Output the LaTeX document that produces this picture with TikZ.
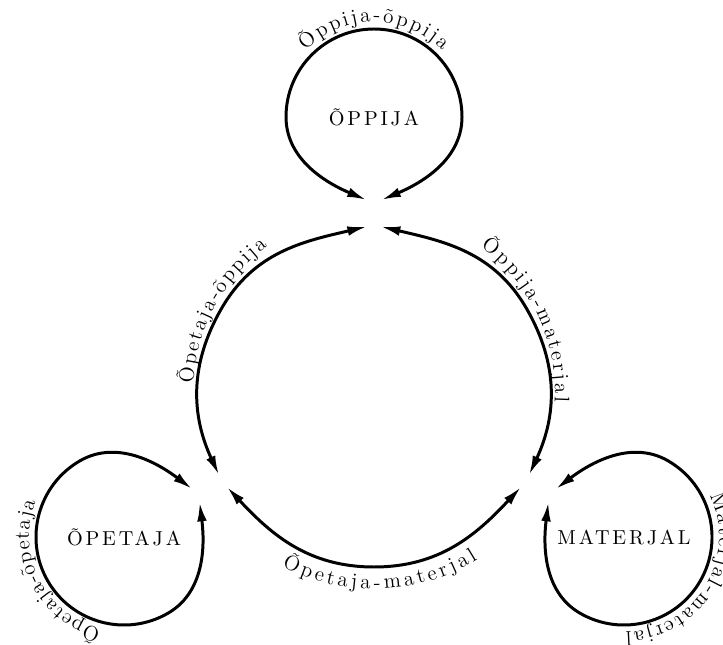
\documentclass[tikz,border=0pt]{standalone}
\usepackage{fontspec}
\usetikzlibrary{arrows.meta,decorations.text}
\newfontfamily\rolefam{lmroman10-regular.otf}[LetterSpace=14]
\newcommand{\rolefont}{\rolefam\fontsize{11.5}{13}\selectfont}
\newcommand{\pathfont}{\fontsize{12}{14}\selectfont}

\begin{document}
\begin{tikzpicture}[x=0.02cm,y=0.02cm,line width=1.7pt,
  >={Latex[length=11pt,width=5.5pt]},
  role/.style={font=\rolefont},
  along/.style={decorate,decoration={text along path,
    text={|\pathfont|#1},text align={fit to path}}}]
\useasboundingbox (0,0) rectangle (723,645);
\node[role] (oppija) at (374,528) {ÕPPIJA};
\node[role] (opetaja) at (124,108) {ÕPETAJA};
\node[role] (materjal) at (624,108) {MATERJAL};
\coordinate (hub) at (374,252);
% loops round each role
\foreach \n/\r in {oppija/0,opetaja/120,materjal/240}{
  \begin{scope}[shift={(\n.center)},rotate=\r]
    \coordinate (\n-a) at (-7.5,-83);
    \coordinate (\n-b) at (7.5,-83);
    \draw[<->] (\n-a) .. controls +(157:36) and +(-90:46) .. (-88,0)
      arc[start angle=180,end angle=0,radius=88]
      .. controls +(-90:46) and +(23:36) .. (\n-b);
  \end{scope}
}
% big ring
\coordinate (top-l) at (366.7,418.3);
\coordinate (top-r) at (381,418.3);
\coordinate (bl-u) at (219,170);
\coordinate (bl-d) at (227,158);
\coordinate (br-u) at (529,170);
\coordinate (br-d) at (521,158);
\coordinate (mid-l) at (221.5,336.5);
\coordinate (mid-r) at (526.5,336.5);
\coordinate (mid-b) at (374,78);
\draw[<->] (top-l) to[out=193,in=60] (mid-l) to[out=240,in=115] (bl-u);
\draw[<->] (top-r) to[out=-13,in=120] (mid-r) to[out=-60,in=65] (br-u);
\draw[<->] (bl-d) to[out=-47,in=180] (mid-b) to[out=0,in=227] (br-d);
% labels
\path[along={Õppija-õppija}] ([shift={(136:95)}]oppija.center)
  arc[start angle=136,end angle=44,radius=95];
\path[along={Õpetaja-õpetaja}] ([shift={(256:95)}]opetaja.center)
  arc[start angle=256,end angle=158,radius=95];
\path[along={Materjal-materjal}] ([shift={(26:95)}]materjal.center)
  arc[start angle=26,end angle=-89,radius=95];
\path[along={Õpetaja-õppija}] ([shift={(177:181)}]hub)
  arc[start angle=177,end angle=126,radius=181];
\path[along={Õppija-materjal}] ([shift={(54:181)}]hub)
  arc[start angle=54,end angle=-3,radius=181];
\path[along={Õpetaja-materjal}] ([shift={(242:196)}]hub)
  arc[start angle=242,end angle=302,radius=196];
\end{tikzpicture}
\end{document}
